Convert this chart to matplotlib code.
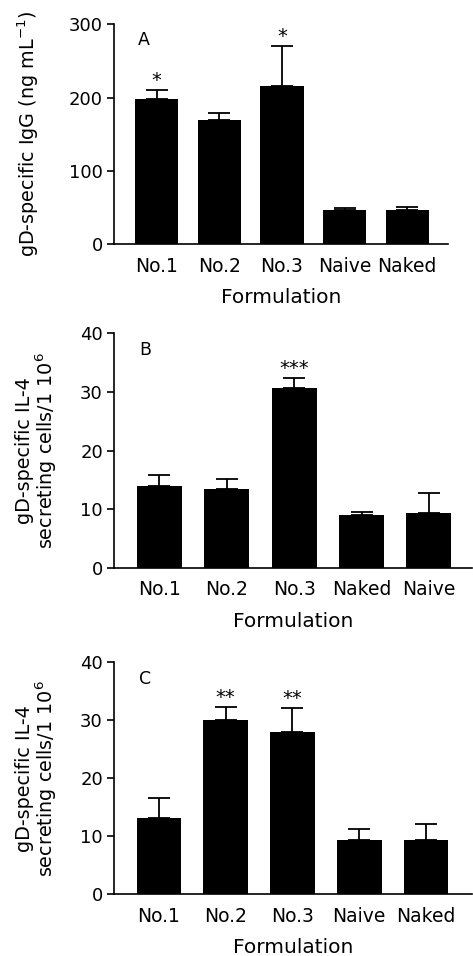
import matplotlib
matplotlib.use("Agg")
import matplotlib.pyplot as plt
import numpy as np

plt.rcParams['font.family'] = ['DejaVu Sans']

# Panel A - gD-specific IgG
a_labels = ['No.1', 'No.2', 'No.3', 'Naive', 'Naked']
a_mean = [198, 170, 216, 47, 47]
a_err = [12, 9, 54, 2, 4]
a_stars = ['*', '', '*', '', '']

# Panel B - IL-4 secreting cells
b_labels = ['No.1', 'No.2', 'No.3', 'Naked', 'Naive']
b_mean = [13.9, 13.4, 30.6, 9.0, 9.3]
b_err = [2.0, 1.8, 1.8, 0.5, 3.4]
b_stars = ['', '', '***', '', '']

# Panel C - IL-4 secreting cells
c_labels = ['No.1', 'No.2', 'No.3', 'Naive', 'Naked']
c_mean = [13.2, 30.1, 28.0, 9.4, 9.4]
c_err = [3.4, 2.2, 4.1, 1.8, 2.7]
c_stars = ['', '**', '**', '', '']

W, H = 473, 956
fig = plt.figure(figsize=(W / 100, H / 100), dpi=100)


def px_axes(left, right, top, bottom):
    return fig.add_axes([left / W, 1 - bottom / H, (right - left) / W, (bottom - top) / H])


def panel(ax, labels, mean, err, stars, ymax, yticks, letter, ylabel, xlim, width, ylab_x):
    x = np.arange(len(labels))
    ax.bar(x, mean, width=width, color='black', zorder=2)
    ax.errorbar(x, mean, yerr=[np.zeros(len(err)), err], fmt='none', ecolor='black',
                elinewidth=1.3, capsize=8, capthick=1.3, zorder=3)
    for xi, m, e, s in zip(x, mean, err, stars):
        if s:
            ax.annotate(s, (xi, m + e), xytext=(0, 0), textcoords='offset points',
                        ha='center', va='bottom', fontsize=14)
    ax.set_xlim(*xlim)
    ax.set_ylim(0, ymax)
    ax.set_yticks(yticks)
    ax.set_xticks(x)
    ax.set_xticklabels(labels)
    ax.spines['top'].set_visible(False)
    ax.spines['right'].set_visible(False)
    ax.spines['left'].set_linewidth(1.2)
    ax.spines['bottom'].set_linewidth(1.2)
    ax.tick_params(axis='x', length=0, pad=9, labelsize=13.5)
    ax.tick_params(axis='y', length=5, width=1.2, pad=3, labelsize=13)
    ax.set_xlabel('Formulation', fontsize=14.5, labelpad=9)
    ax.set_ylabel(ylabel, fontsize=13.8, linespacing=0.95)
    ax.yaxis.set_label_coords(ylab_x, 0.5)
    ax.text(0.07, 0.93, letter, transform=ax.transAxes, fontsize=12.5, ha='left', va='center')


axA = px_axes(114, 448, 24.3, 244.3)
panel(axA, a_labels, a_mean, a_err, a_stars, 300, [0, 100, 200, 300], 'A',
      'gD-specific IgG (ng mL$^{-1}$)', (-0.68, 4.65), 0.69, -0.22)

axB = px_axes(114, 472, 333.3, 567.7)
panel(axB, b_labels, b_mean, b_err, b_stars, 40, [0, 10, 20, 30, 40], 'B',
      'gD-specific IL-4\nsecreting cells/1 10$^{6}$', (-0.675, 4.64), 0.67, -0.155)

axC = px_axes(114, 472, 662.3, 894.3)
panel(axC, c_labels, c_mean, c_err, c_stars, 40, [0, 10, 20, 30, 40], 'C',
      'gD-specific IL-4\nsecreting cells/1 10$^{6}$', (-0.674, 4.69), 0.67, -0.155)

fig.savefig('out.png', dpi=100)
